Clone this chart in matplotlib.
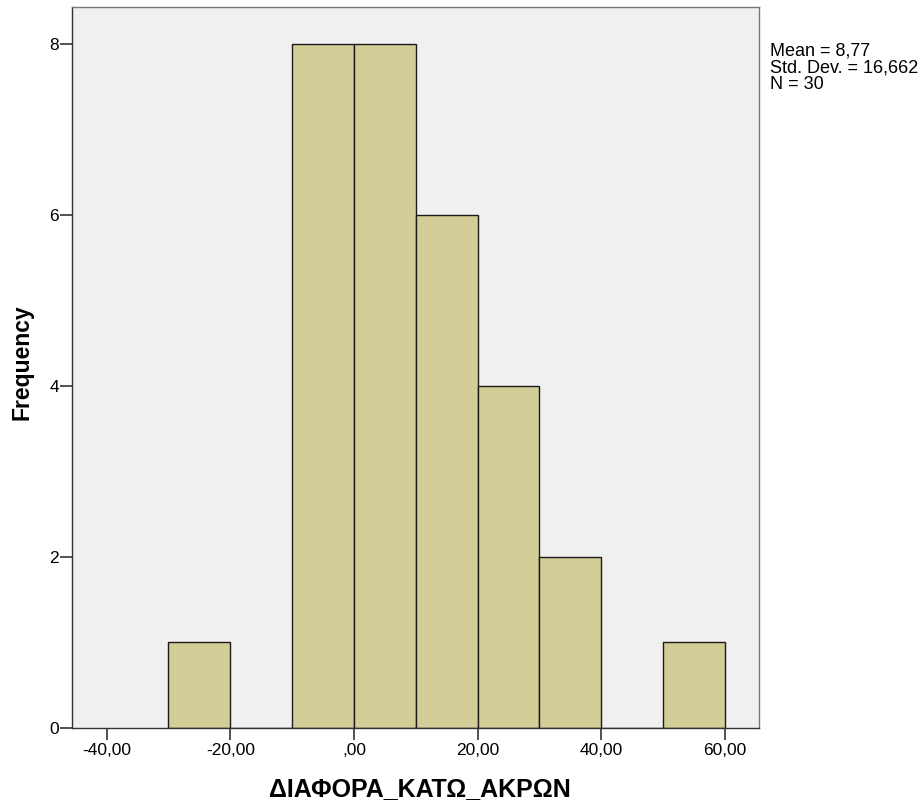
import numpy as np
import matplotlib.pyplot as plt

# Histogram of the difference (SPSS style)
bin_edges = [-30, -20, -10, 0, 10, 20, 30, 40, 50, 60]
counts = [1, 0, 8, 8, 6, 4, 2, 0, 1]
x_ticks = [-40, -20, 0, 20, 40, 60]
x_labels = ['-40,00', '-20,00', ',00', '20,00', '40,00', '60,00']
y_ticks = [0, 2, 4, 6, 8]
stats_text = 'Mean = 8,77\nStd. Dev. = 16,662\nN = 30'

plt.rcParams['font.family'] = ['Liberation Sans', 'DejaVu Sans']

fig = plt.figure(figsize=(9.2, 8.05), dpi=100)
ax = fig.add_axes([0.0783, 0.0957, 0.7467, 0.8956])
ax.set_facecolor('#f0f0f0')

edges = np.array(bin_edges)
ax.bar(edges[:-1], counts, width=np.diff(edges), align='edge',
       color='#d3ce97', edgecolor='#1a1a1a', linewidth=1.0, zorder=2)

ax.set_xlim(-45.6, 65.5)
ax.set_ylim(0, 8.43)
ax.set_xticks(x_ticks)
ax.set_xticklabels(x_labels)
ax.set_yticks(y_ticks)
ax.tick_params(axis='both', direction='out', length=8.5, width=1.2,
               color='#333333', labelsize=12.5)
ax.tick_params(axis='x', pad=2.5)
ax.tick_params(axis='y', pad=1)
for s in ax.spines.values():
    s.set_color('#333333')
    s.set_linewidth(1.0)
ax.spines['top'].set_color('#777777')
ax.spines['right'].set_color('#777777')

ax.set_xlabel('ΔΙΑΦΟΡΑ_ΚΑΤΩ_ΑΚΡΩΝ', fontsize=18, fontweight='bold')
ax.set_ylabel('Frequency', fontsize=16.5, fontweight='bold')
# label centres in figure pixels -> axes coords
ax.xaxis.set_label_coords((420 - 72) / 687, -(789 - 728) / 721)
ax.yaxis.set_label_coords(-(72 - 22) / 687, (728 - 362) / 721)
ax.xaxis.label.set_va('center')
ax.yaxis.label.set_va('center')

fig.text(0.837, 0.947, stats_text, fontsize=13, va='top', ha='left',
         linespacing=0.97)

plt.savefig('out.png', dpi=100)
